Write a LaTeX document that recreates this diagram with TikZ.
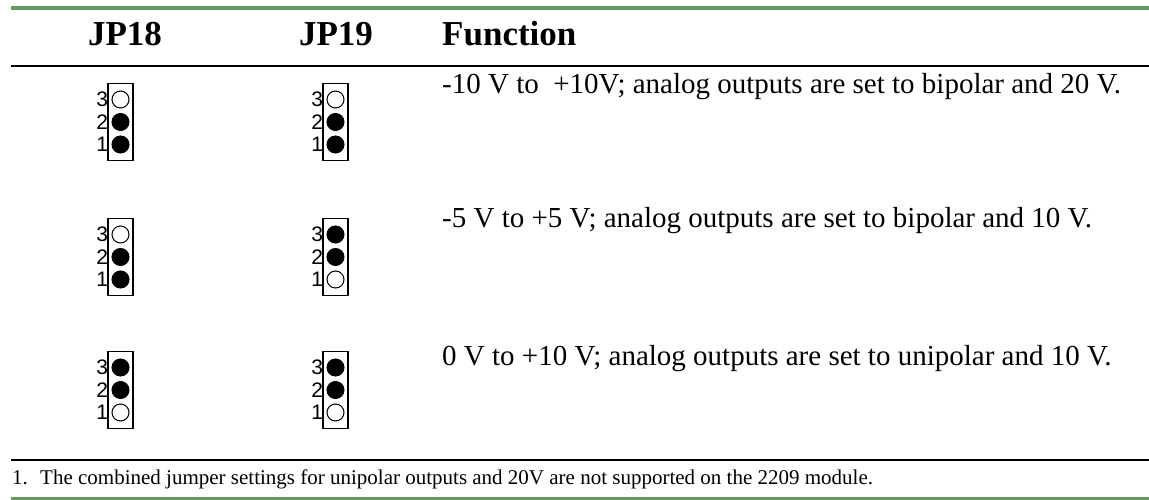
\documentclass[tikz,border=0pt]{standalone}
\usepackage{fontspec}
\setmainfont{Liberation Serif}
\setsansfont{Liberation Sans}
\definecolor{rulegreen}{RGB}{104,152,98}

\tikzset{
  head/.style={font=\bfseries\fontsize{35}{40}\selectfont, anchor=base, inner sep=0pt},
  func/.style={font=\fontsize{29}{34}\selectfont, anchor=base west, inner sep=0pt},
  note/.style={font=\fontsize{21}{25}\selectfont, anchor=base west, inner sep=0pt},
  hdr/.style={draw, line width=1.3pt, minimum width=25pt, minimum height=77pt, inner sep=0pt},
  pin/.style={circle, draw, line width=1pt, minimum size=17pt, inner sep=0pt,
    label distance=-1pt},
  on/.style={pin, fill=black},
  off/.style={pin, fill=white},
  num/.style={font=\sffamily\fontsize{21}{25}\selectfont}
}

\begin{document}
\begin{tikzpicture}[x=1pt,y=-1pt]
        \useasboundingbox (0,0) rectangle (1149,500);

        % rules
        \draw[rulegreen, line width=4pt] (11,8) -- (1149,8);
        \draw[line width=1.5pt] (11,66) -- (1149,66);
        \draw[line width=1.2pt] (11,460) -- (1149,460);
        \draw[rulegreen, line width=3pt] (11,498) -- (1149,498);

        % heading
        \node[head] (t18) at (125,46) {JP18};
        \node[head] (t19) at (336,46) {JP19};
        \node[head, anchor=base west] (tf) at (442,46) {Function};

        % jumper blocks
        \begin{scope}[every node/.style={hdr}]
          \node (b18-1) at (120.5,122) {};
          \node (b19-1) at (335.5,122) {};
          \node (b18-2) at (120.5,257) {};
          \node (b19-2) at (335.5,257) {};
          \node (b18-3) at (120.5,390) {};
          \node (b19-3) at (335.5,390) {};
        \end{scope}

        % row 1
        \node[off, label={[num]left:3}] (p18-1-3) at (120.5,99.5) {};
        \node[on,  label={[num]left:2}] (p18-1-2) at (120.5,122) {};
        \node[on,  label={[num]left:1}] (p18-1-1) at (120.5,144.5) {};
        \node[off, label={[num]left:3}] (p19-1-3) at (335.5,99.5) {};
        \node[on,  label={[num]left:2}] (p19-1-2) at (335.5,122) {};
        \node[on,  label={[num]left:1}] (p19-1-1) at (335.5,144.5) {};

        % row 2
        \node[off, label={[num]left:3}] (p18-2-3) at (120.5,234.5) {};
        \node[on,  label={[num]left:2}] (p18-2-2) at (120.5,257) {};
        \node[on,  label={[num]left:1}] (p18-2-1) at (120.5,279.5) {};
        \node[on,  label={[num]left:3}] (p19-2-3) at (335.5,234.5) {};
        \node[on,  label={[num]left:2}] (p19-2-2) at (335.5,257) {};
        \node[off, label={[num]left:1}] (p19-2-1) at (335.5,279.5) {};

        % row 3
        \node[on,  label={[num]left:3}] (p18-3-3) at (120.5,367.5) {};
        \node[on,  label={[num]left:2}] (p18-3-2) at (120.5,390) {};
        \node[off, label={[num]left:1}] (p18-3-1) at (120.5,412.5) {};
        \node[on,  label={[num]left:3}] (p19-3-3) at (335.5,367.5) {};
        \node[on,  label={[num]left:2}] (p19-3-2) at (335.5,390) {};
        \node[off, label={[num]left:1}] (p19-3-1) at (335.5,412.5) {};

        % functions
        \node[func] (f1) at (442,94) {-10 V to\ \ +10V; analog outputs are set to bipolar and 20 V.};
        \node[func] (f2) at (442,227) {-5 V to +5 V; analog outputs are set to bipolar and 10 V.};
        \node[func] (f3) at (442,365) {0 V to +10 V; analog outputs are set to unipolar and 10 V.};

        % footnote
        \node[note] (n1) at (12,484) {1.};
        \node[note] (n2) at (40,484) {The combined jumper settings for unipolar outputs and 20V are not supported on the 2209 module.};

      \end{tikzpicture}
\end{document}
